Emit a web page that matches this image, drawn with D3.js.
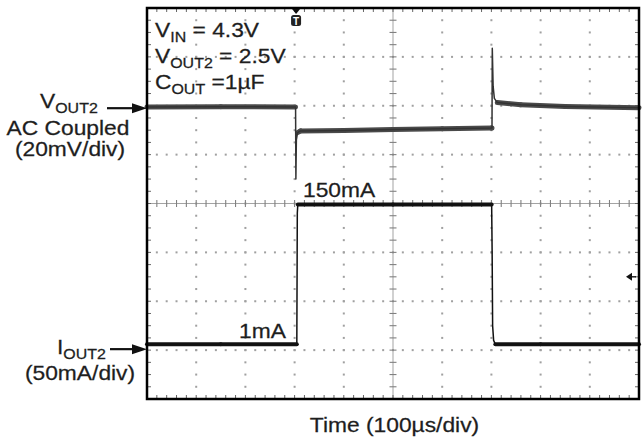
<!DOCTYPE html>
<html><head><meta charset="utf-8">
<script src="https://cdn.jsdelivr.net/npm/d3@7"></script>
<style>html,body{margin:0;padding:0;background:#fff;}svg{display:block;}</style>
</head><body>
<svg id="c" width="642" height="437"></svg>
<script>
// ---- data ----
// time in µs (100 µs/div, 10 div), VOUT2 in mV (AC coupled, 20 mV/div), IOUT2 in mA (50 mA/div)
const vTime = [0, 150, 302, 302.6, 303.6, 306, 312, 400, 500, 600, 700, 701.2, 701.8, 703.5, 706, 712, 760, 850, 1000];
const vMv   = [-0.5, -0.4, -0.5, -30, -14, -11, -10.3, -10.1, -9.7, -9.4, -9.1, -9.1, 23.5, 8, 3, 1.3, 0.4, -0.3, -0.8];
const iTime = [0, 150, 304.5, 305.5, 306.5, 500, 700.5, 701.5, 702.5, 704.5, 708, 800, 1000];
const iMa   = [6, 6, 6, 140, 149, 149, 149, 100, 25, 10, 6, 6, 6];
const timeDomain = [0, 1000];
const voltDomain = [40, -120];   // mV, top to bottom (8 div × 20 mV)
const currDomain = [350, -50];   // mA, top to bottom (8 div × 50 mA)
const condLines = [["V", "IN", " = 4.3V"], ["V", "OUT2", " = 2.5V"], ["C", "OUT", " =1µF"]];

// ---- layout ----
const L = 147, R = 639, T = 8, B = 399;
const svg = d3.select("#c");
svg.append("rect").attr("width", 642).attr("height", 437).attr("fill", "#fff");
const x = d3.scaleLinear().domain(timeDomain).range([L, R]);
const yV = d3.scaleLinear().domain(voltDomain).range([T, B]);
const yI = d3.scaleLinear().domain(currDomain).range([T, B]);

const xt = x.ticks(10);
const yt = yV.ticks(8);
const xMinor = x.ticks(50), yMinor = yV.ticks(40);
const xc = x(500), yc = yV(-40);

const g = svg.append("g");
// dotted graticule
xt.forEach(t => {
  if (t === timeDomain[0] || t === timeDomain[1] || t === 500) return;
  yMinor.forEach(v => g.append("rect").attr("x", x(t) - 1).attr("y", yV(v) - 1)
    .attr("width", 2).attr("height", 2).attr("fill", "#a0a0a0"));
});
yt.forEach(v => {
  if (v === voltDomain[0] || v === voltDomain[1] || v === -40) return;
  xMinor.forEach(t => g.append("rect").attr("x", x(t) - 1).attr("y", yV(v) - 1)
    .attr("width", 2).attr("height", 2).attr("fill", "#a0a0a0"));
});
// center cross with ticks
g.append("line").attr("x1", L).attr("x2", R).attr("y1", yc).attr("y2", yc).attr("stroke", "#999").attr("stroke-width", 0.9);
g.append("line").attr("x1", xc).attr("x2", xc).attr("y1", T).attr("y2", B).attr("stroke", "#999").attr("stroke-width", 0.9);
xMinor.forEach(t => g.append("line").attr("x1", x(t)).attr("x2", x(t)).attr("y1", yc - 3.5).attr("y2", yc + 3.5).attr("stroke", "#808080").attr("stroke-width", 1.1));
yMinor.forEach(v => g.append("line").attr("x1", xc - 3.5).attr("x2", xc + 3.5).attr("y1", yV(v)).attr("y2", yV(v)).attr("stroke", "#808080").attr("stroke-width", 1.1));
// border ticks
xMinor.forEach(t => {
  g.append("line").attr("x1", x(t)).attr("x2", x(t)).attr("y1", T).attr("y2", T + 4).attr("stroke", "#666").attr("stroke-width", 1);
  g.append("line").attr("x1", x(t)).attr("x2", x(t)).attr("y1", B - 4).attr("y2", B).attr("stroke", "#666").attr("stroke-width", 1);
});
yMinor.forEach(v => {
  g.append("line").attr("x1", L).attr("x2", L + 4).attr("y1", yV(v)).attr("y2", yV(v)).attr("stroke", "#666").attr("stroke-width", 1);
  g.append("line").attr("x1", R - 4).attr("x2", R).attr("y1", yV(v)).attr("y2", yV(v)).attr("stroke", "#666").attr("stroke-width", 1);
});

// ---- traces ----
function drawTrace(ts, vs, ys, bandColor, bandW, coreColor) {
  const pts = ts.map((t, i) => [x(t), ys(vs[i])]);
  const line = d3.line();
  for (let i = 0; i < pts.length - 1; i++) {
    const dx = pts[i + 1][0] - pts[i][0], dy = pts[i + 1][1] - pts[i][1];
    if (Math.abs(dy) <= Math.abs(dx) * 1.2) {
      svg.append("path").attr("d", line([pts[i], pts[i + 1]])).attr("fill", "none")
        .attr("stroke", bandColor).attr("stroke-width", bandW).attr("stroke-linecap", "round");
    }
  }
  svg.append("path").attr("d", line(pts)).attr("fill", "none")
    .attr("stroke", coreColor).attr("stroke-width", 1.5).attr("stroke-linejoin", "round");
}
drawTrace(vTime, vMv, yV, "#4a4a4a", 5, "#333");
drawTrace(iTime, iMa, yI, "#141414", 4, "#111");

// border
svg.append("rect").attr("x", L).attr("y", T).attr("width", R - L).attr("height", B - T)
  .attr("fill", "none").attr("stroke", "#000").attr("stroke-width", 2.5);

// trigger marker
svg.append("path").attr("d", `M${x(303) - 4},${T + 1}L${x(303) + 4},${T + 1}L${x(303)},${T + 6}Z`).attr("fill", "#111");
svg.append("rect").attr("x", x(303) - 5).attr("y", 15).attr("width", 10).attr("height", 11).attr("rx", 2.5).attr("fill", "#222");
svg.append("text").attr("x", x(303)).attr("y", 24.5).attr("text-anchor", "middle")
  .attr("font-family", "Liberation Sans, Arial, sans-serif").attr("font-weight", "bold").attr("font-size", 10).attr("fill", "#fff").text("T");
// right-side level marker
svg.append("path").attr("d", `M626,${yI(75)}L632,${yI(75) - 4}L632,${yI(75) + 4}Z`).attr("fill", "#111");
svg.append("line").attr("x1", 631).attr("x2", 636).attr("y1", yI(75)).attr("y2", yI(75)).attr("stroke", "#111").attr("stroke-width", 1.4);

// ---- text ----
const FF = "Liberation Sans, Arial, Helvetica, sans-serif";
const SX = 1.14;
function label(xp, yp, parts, anchor, size) {
  const t = svg.append("text").attr("transform", `translate(${xp},${yp}) scale(${SX},1)`)
    .attr("font-family", FF).attr("font-size", size || 20).attr("fill", "#1e1e1e")
    .attr("stroke", "#1e1e1e").attr("stroke-width", 0.25)
    .attr("text-anchor", anchor || "start");
  parts.forEach(p => {
    if (typeof p === "string") t.append("tspan").attr("dy", 0).text(p);
    else t.append("tspan").attr("font-size", p.size || 14).attr("dy", p.dy).text(p.t);
  });
  return t;
}
condLines.forEach((ln, i) => {
  const yb = 37 + i * 26;
  label(155, yb, [ln[0], {t: ln[1], dy: 5}, {t: ln[2], dy: -5, size: 20}]);
});
label(40, yV(-1), ["V", {t: "OUT2", dy: 5}]);
label(68, 135, ["AC Coupled"], "middle");
label(70, 156, ["(20mV/div)"], "middle");
label(57, yI(-4), ["I", {t: "OUT2", dy: 5}]);
label(80, 380, ["(50mA/div)"], "middle");
label(286, 337.5, ["1mA"], "end");
label(303, 196.5, ["150mA"]);
label(394.5, 431.5, ["Time (100µs/div)"], "middle");

// left arrows
function arrow(x1, yv) {
  svg.append("line").attr("x1", x1).attr("x2", L - 10).attr("y1", yv).attr("y2", yv).attr("stroke", "#111").attr("stroke-width", 2.2);
  svg.append("path").attr("d", `M${L - 15},${yv - 5}L${L},${yv}L${L - 15},${yv + 5}Z`).attr("fill", "#111");
}
arrow(107, yV(-1));
arrow(110, yI(1));
</script>
</body></html>
